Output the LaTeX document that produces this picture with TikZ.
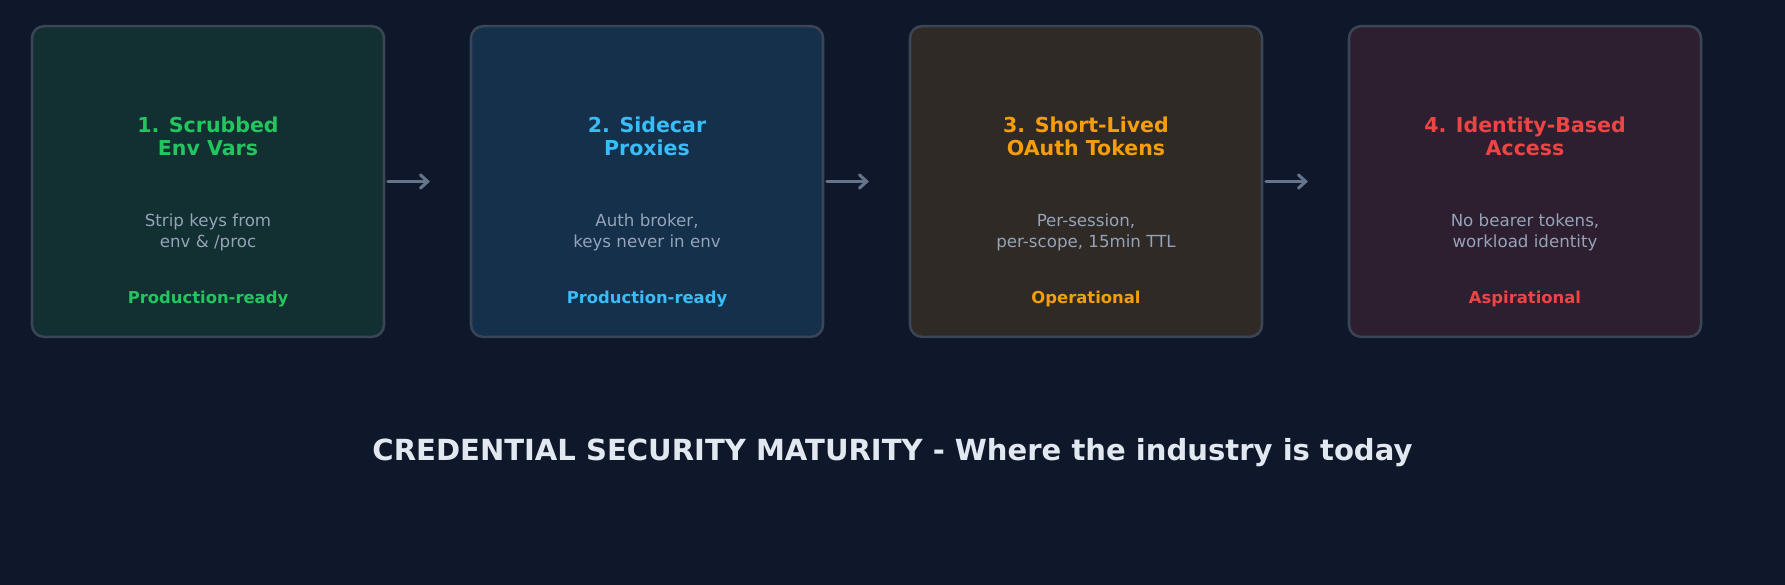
\documentclass[tikz,border=0pt]{standalone}
\usepackage{fontspec}
\setmainfont{DejaVu Sans}
\usetikzlibrary{arrows.meta}
\definecolor{bg}{HTML}{0F172A}
\definecolor{bord}{HTML}{3A4556}
\definecolor{fillA}{HTML}{122F31}
\definecolor{fillB}{HTML}{15304A}
\definecolor{fillC}{HTML}{302A26}
\definecolor{fillD}{HTML}{2E1F30}
\definecolor{cgreen}{HTML}{22C55E}
\definecolor{cblue}{HTML}{38BDF8}
\definecolor{corange}{HTML}{F59E0B}
\definecolor{cred}{HTML}{EF4444}
\definecolor{cgray}{HTML}{94A3B8}
\definecolor{ctitle}{HTML}{E2E8F0}
\definecolor{carrow}{HTML}{64748B}
\tikzset{
  stagebox/.style={draw=bord, line width=1.9pt, rounded corners=9pt, minimum width=264pt, minimum height=233pt, inner sep=0pt},
  headtxt/.style={font=\bfseries\fontsize{15.4pt}{17.1pt}\selectfont, align=center, anchor=base},
  subtxt/.style={text=cgray, font=\fontsize{12.5pt}{15.9pt}\selectfont, align=center, anchor=base},
  stattxt/.style={font=\bfseries\fontsize{12.3pt}{14pt}\selectfont, anchor=base},
  flow/.style={draw=carrow, line width=2.3pt, line cap=round, -{Straight Barb[length=5.5pt,width=10pt,line cap=round]}},
}
\begin{document}
\begin{tikzpicture}[x=0.75pt,y=-0.75pt]
\fill[bg] (0,0) rectangle (1785,585);
\useasboundingbox (0,0) rectangle (1785,585);
% boxes
\node[stagebox, fill=fillA] (b1) at (208,181.5) {};
\node[stagebox, fill=fillB] (b2) at (647,181.5) {};
\node[stagebox, fill=fillC] (b3) at (1086,181.5) {};
\node[stagebox, fill=fillD] (b4) at (1525,181.5) {};
% headings (anchor = baseline of last line)
\node[headtxt, text=cgreen] (h1) at (208,155) {1. Scrubbed\\Env Vars};
\node[headtxt, text=cblue] (h2) at (647,155) {2. Sidecar\\Proxies};
\node[headtxt, text=corange] (h3) at (1086,155) {3. Short-Lived\\OAuth Tokens};
\node[headtxt, text=cred] (h4) at (1525,155) {4. Identity-Based\\Access};
% descriptions
\node[subtxt] (d1) at (208,247.3) {Strip keys from\\env \& /proc};
\node[subtxt] (d2) at (647,247.3) {Auth broker,\\keys never in env};
\node[subtxt] (d3) at (1086,247.3) {Per-session,\\per-scope, 15min TTL};
\node[subtxt] (d4) at (1525,247.3) {No bearer tokens,\\workload identity};
% status
\node[stattxt, text=cgreen] (s1) at (208,303.7) {Production-ready};
\node[stattxt, text=cblue] (s2) at (647,303.7) {Production-ready};
\node[stattxt, text=corange] (s3) at (1086,303.7) {Operational};
\node[stattxt, text=cred] (s4) at (1525,303.7) {Aspirational};
% arrows
\coordinate (e1) at (430,181.5);
\coordinate (e2) at (869,181.5);
\coordinate (e3) at (1308,181.5);
\draw[flow] ([xshift=2pt]b1.east) -- (e1);
\draw[flow] ([xshift=2pt]b2.east) -- (e2);
\draw[flow] ([xshift=2pt]b3.east) -- (e3);
% title
\node[text=ctitle, font=\bfseries\fontsize{21.8pt}{26pt}\selectfont, anchor=base] (title) at (892.5,460.5) {CREDENTIAL SECURITY MATURITY - Where the industry is today};
\end{tikzpicture}
\end{document}
